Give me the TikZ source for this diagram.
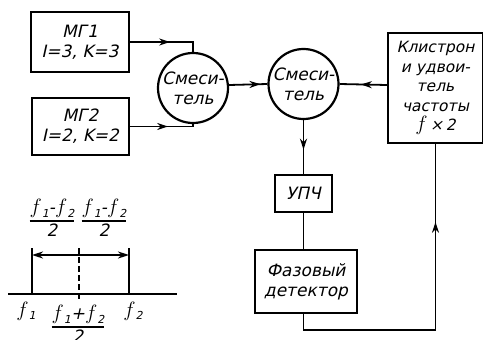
\documentclass[tikz,border=0pt]{standalone}
\usepackage{fontspec}
\setmainfont{DejaVu Sans}[FakeSlant=0.22]
\usetikzlibrary{arrows.meta,decorations.markings}
\newcommand\sbs[1]{\raisebox{-0.4ex}{\fontsize{11}{11}\selectfont #1}}
\newcommand\ff{{\fontsize{21}{21}\selectfont$f$}}
\setlength\arrayrulewidth{1.5pt}
\newcommand\fr[2]{\begin{tabular}{@{}c@{}}#1\\[1pt]\hline\noalign{\vskip 1pt}#2\end{tabular}}
\begin{document}
\begin{tikzpicture}[x=1pt,y=-1pt,
  font=\fontsize{17}{20}\selectfont,
  line width=1.8pt,
  box/.style={draw, line width=2.2pt, inner sep=0pt, align=center},
  mix/.style={draw, circle, line width=2.2pt, minimum size=70pt, inner sep=0pt, align=center},
  midarr/.style={postaction={decorate}, decoration={markings, mark=at position #1 with {\arrow{Stealth[length=11pt,width=7pt]}}}},
  lbl/.style={inner sep=0pt}
]
\useasboundingbox (0,0) rectangle (483,340);

% blocks
\node[box, minimum width=98pt, minimum height=60pt] (mg1) at (80,42) {МГ1\\I=3, K=3};
\node[box, minimum width=97pt, minimum height=57pt] (mg2) at (80.5,126.5) {МГ2\\I=2, K=2};
\node[mix] (mix1) at (193,88) {Смеси-\\тель};
\node[mix] (mix2) at (303.5,84) {Смеси-\\тель};
\node[box, minimum width=95pt, minimum height=110pt, font=\fontsize{15.5}{19.5}\selectfont] (kly) at (435.5,88) {Клистрон\\и удвои-\\тель\\частоты\\\ff\,×\,2};
\node[box, minimum width=57pt, minimum height=37pt] (upch) at (303.5,193.5) {УПЧ};
\node[box, minimum width=102pt, minimum height=63pt] (det) at (306,281.5) {Фазовый\\детектор};

\coordinate (c1) at (303.5,330);
\coordinate (c2) at (435.5,330);

% connectors
\draw[midarr=40pt] (mg1.east) -| (mix1.north);
\draw[midarr=38pt] (mg2.east) -| (mix1.south);
\draw[midarr=0.82] (mix1.east |- 0,85) -- (mix2.west);
\draw[midarr=0.55] (kly.west |- 0,85) -- (mix2.east);
\draw[midarr=0.55] (mix2.south) -- (upch.north);
\draw (upch.south) -- (upch.south |- det.north);
\draw[midarr=256pt] (upch.south |- det.south) -- (c1) -- (c2) -- (kly.south);

% spectrum sketch
\coordinate (a0) at (8,294);
\coordinate (a1) at (177,294);
\coordinate (f1t) at (32,248);
\coordinate (f1b) at (32,294);
\coordinate (f2t) at (129,248);
\coordinate (f2b) at (129,294);
\coordinate (mt) at (79,248);
\coordinate (mb) at (79,300);
\coordinate (d1) at (32,255);
\coordinate (d2) at (129,255);
\draw (a0) -- (a1);
\draw (f1t) -- (f1b);
\draw (f2t) -- (f2b);
\draw[dash pattern=on 6pt off 3pt] (mt) -- (mb);
\draw[{Stealth[length=11pt,width=7pt]}-{Stealth[length=11pt,width=7pt]}] (d1) -- (d2);

\node[lbl] (fr1) at (52,221) {\fr{\ff\sbs{1}-\ff\sbs{2}}{2}};
\node[lbl] (fr2) at (104,221) {\fr{\ff\sbs{1}-\ff\sbs{2}}{2}};
\node[lbl] (lf1) at (26,311) {\ff\sbs{1}};
\node[lbl] (lf2) at (133,311) {\ff\sbs{2}};
\node[lbl, anchor=north] (lfm) at (78,304) {\fr{\ff\sbs{1}+\ff\sbs{2}}{2}};
\end{tikzpicture}
\end{document}
